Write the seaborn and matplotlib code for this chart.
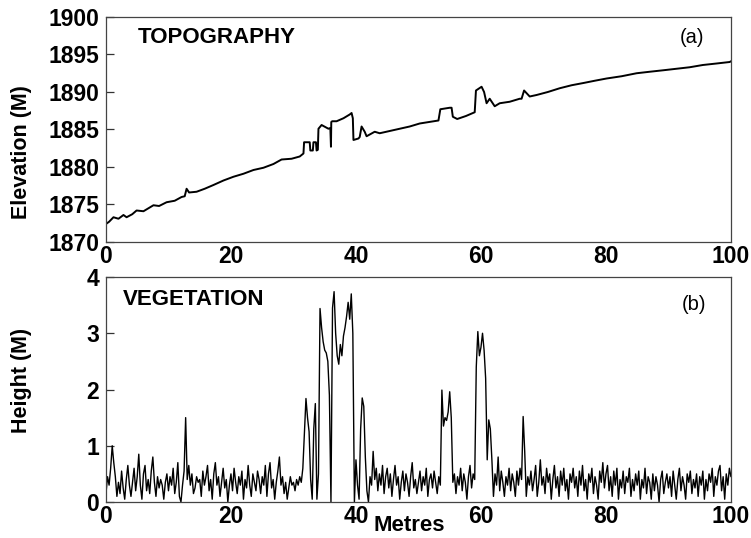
import numpy as np
import pandas as pd
import matplotlib
matplotlib.use("Agg")
import matplotlib.pyplot as plt
import seaborn as sns

# topography transect
topo_x = [0, 0.5, 1.2, 2.0, 2.8, 3.3, 4.2, 4.9, 6.0, 6.8,
          7.6, 8.5, 9.7, 11.0, 12.1, 12.6, 12.9, 13.3, 14.5, 15.8,
          17.2, 18.8, 20.4, 22.0, 23.6, 25.2, 26.8, 28.1, 29.7, 31.0,
          31.6, 31.7, 32.6, 32.7, 33.1, 33.2, 33.6, 33.7, 33.9, 34.0,
          34.5, 35.6, 35.9, 36.0, 36.05, 36.2, 36.9, 38.0, 39.0, 39.3,
          39.5, 39.6, 40.4, 40.6, 40.9, 41.4, 41.7, 43.0, 43.8, 45.4,
          47.0, 48.6, 50.2, 51.7, 53.2, 53.5, 55.0, 55.3, 55.5, 56.2,
          57.6, 59.0, 59.2, 60.1, 60.5, 60.9, 61.4, 62.2, 63.0, 64.6,
          66.2, 66.5, 66.9, 67.8, 68.9, 70.7, 72.6, 74.5, 76.4, 78.2,
          80.1, 82.5, 84.9, 87.0, 89.2, 91.3, 93.4, 95.5, 97.7, 99.8,
          100]
topo_elev = [1872.4, 1872.7, 1873.3, 1873.1, 1873.6, 1873.3, 1873.7, 1874.2, 1874.1, 1874.5,
             1874.9, 1874.8, 1875.3, 1875.5, 1876.0, 1876.1, 1877.1, 1876.6, 1876.7, 1877.1,
             1877.6, 1878.2, 1878.7, 1879.1, 1879.6, 1879.9, 1880.4, 1881.0, 1881.1, 1881.4,
             1881.8, 1883.3, 1883.3, 1882.2, 1882.2, 1883.3, 1883.3, 1882.2, 1882.3, 1885.1,
             1885.6, 1885.1, 1885.2, 1882.7, 1886.0, 1886.1, 1886.1, 1886.5, 1887.0, 1887.2,
             1886.5, 1883.6, 1883.8, 1884.0, 1885.4, 1884.7, 1884.1, 1884.7, 1884.5, 1884.8,
             1885.1, 1885.4, 1885.8, 1886.0, 1886.2, 1887.7, 1887.9, 1887.9, 1886.7, 1886.4,
             1886.8, 1887.3, 1890.2, 1890.7, 1890.0, 1888.5, 1889.1, 1888.1, 1888.5, 1888.7,
             1889.1, 1889.1, 1890.2, 1889.4, 1889.6, 1890.0, 1890.5, 1890.9, 1891.2, 1891.5,
             1891.8, 1892.1, 1892.5, 1892.7, 1892.9, 1893.1, 1893.3, 1893.6, 1893.8, 1894.0,
             1894.1]

# vegetation height, one value every 0.25 m (20 values per row = 5 m)
veg_h = [
    0.15, 0.45, 0.3, 0.6, 1.0, 0.7, 0.45, 0.1, 0.35, 0.15, 0.55, 0.25, 0.05, 0.4, 0.65, 0.3, 0.1, 0.35, 0.6, 0.2,
    0.45, 0.85, 0.3, 0.05, 0.5, 0.65, 0.2, 0.4, 0.15, 0.55, 0.8, 0.35, 0.1, 0.45, 0.25, 0.4, 0.3, 0.05, 0.35, 0.5,
    0.2, 0.45, 0.3, 0.6, 0.15, 0.35, 0.7, 0.1, 0.0, 0.3, 0.55, 1.5, 0.4, 0.65, 0.3, 0.5, 0.15, 0.25, 0.45, 0.35,
    0.4, 0.1, 0.55, 0.3, 0.45, 0.65, 0.2, 0.4, 0.05, 0.5, 0.7, 0.3, 0.45, 0.1, 0.35, 0.6, 0.25, 0.4, 0.0, 0.3,
    0.5, 0.2, 0.6, 0.35, 0.15, 0.45, 0.3, 0.55, 0.05, 0.4, 0.25, 0.65, 0.3, 0.1, 0.5, 0.35, 0.2, 0.55, 0.4, 0.15,
    0.45, 0.3, 0.65, 0.1, 0.5, 0.7, 0.25, 0.4, 0.05, 0.35, 0.55, 0.8, 0.3, 0.45, 0.15, 0.35, 0.05, 0.25, 0.45, 0.3,
    0.35, 0.2, 0.4, 0.3, 0.45, 0.35, 0.6, 1.2, 1.84, 1.5, 1.25, 0.4, 0.05, 1.3, 1.75, 0.05, 0.5, 3.44, 3.1, 2.85,
    2.7, 2.65, 2.5, 1.9, 0.0, 3.45, 3.74, 3.0, 2.6, 2.45, 2.8, 2.6, 2.95, 3.1, 3.3, 3.55, 3.25, 3.7, 3.0, 0.0,
    0.75, 0.3, 0.05, 1.3, 1.85, 1.7, 0.8, 0.2, 0.0, 0.45, 0.3, 0.9, 0.4, 0.6, 0.2, 0.5, 0.3, 0.65, 0.15, 0.45,
    0.6, 0.25, 0.5, 0.1, 0.4, 0.65, 0.3, 0.45, 0.05, 0.35, 0.55, 0.2, 0.5, 0.35, 0.1, 0.45, 0.7, 0.25, 0.4, 0.15,
    0.35, 0.55, 0.2, 0.45, 0.3, 0.6, 0.1, 0.4, 0.5, 0.25, 0.55, 0.35, 0.15, 0.45, 0.3, 1.99, 1.35, 1.5, 1.45, 1.6,
    1.96, 1.5, 0.35, 0.5, 0.15, 0.45, 0.3, 0.6, 0.2, 0.5, 0.35, 0.05, 0.45, 0.65, 0.25, 0.5, 0.4, 2.4, 3.03, 2.6,
    2.75, 3.0, 2.7, 2.2, 0.75, 1.46, 1.3, 0.75, 0.1, 0.5, 0.3, 0.8, 0.2, 0.55, 0.35, 0.1, 0.45, 0.3, 0.6, 0.2,
    0.5, 0.35, 0.1, 0.55, 0.3, 0.6, 0.4, 1.52, 0.9, 0.1, 0.45, 0.3, 0.55, 0.2, 0.4, 0.65, 0.1, 0.35, 0.75, 0.3,
    0.45, 0.15, 0.6, 0.35, 0.5, 0.05, 0.4, 0.65, 0.25, 0.45, 0.1, 0.55, 0.3, 0.6, 0.2, 0.4, 0.05, 0.5, 0.35, 0.6,
    0.25, 0.45, 0.1, 0.55, 0.3, 0.65, 0.2, 0.4, 0.05, 0.5, 0.35, 0.6, 0.15, 0.45, 0.3, 0.05, 0.55, 0.35, 0.7, 0.25,
    0.5, 0.65, 0.2, 0.45, 0.1, 0.55, 0.3, 0.6, 0.05, 0.4, 0.25, 0.55, 0.15, 0.45, 0.35, 0.6, 0.1, 0.4, 0.2, 0.5,
    0.3, 0.55, 0.05, 0.4, 0.25, 0.6, 0.15, 0.45, 0.35, 0.05, 0.5, 0.2, 0.45, 0.3, 0.0, 0.4, 0.55, 0.15, 0.35, 0.5,
    0.25, 0.45, 0.1, 0.55, 0.3, 0.05, 0.4, 0.6, 0.2, 0.45, 0.3, 0.05, 0.5, 0.35, 0.55, 0.15, 0.4, 0.25, 0.5, 0.1,
    0.45, 0.3, 0.55, 0.05, 0.4, 0.2, 0.5, 0.35, 0.6, 0.1, 0.45, 0.3, 0.55, 0.65, 0.2, 0.45, 0.05, 0.5, 0.3, 0.6,
    0.45,
]
veg_x = np.linspace(0, 100, len(veg_h))

elev_ticks = [1870, 1875, 1880, 1885, 1890, 1895, 1900]
height_ticks = [0, 1, 2, 3, 4]
metre_ticks = [0, 20, 40, 60, 80, 100]


def style_axis(ax):
    for s in ax.spines.values():
        s.set_color("#444444")
        s.set_linewidth(0.9)
    ax.tick_params(axis="y", left=True, direction="in", length=6, width=0.9,
                   pad=5, labelsize=16.5, color="#333333", labelcolor="black")
    ax.tick_params(axis="x", direction="in", length=0, pad=2, labelsize=16.5,
                   labelcolor="black")
    for lab in ax.get_xticklabels() + ax.get_yticklabels():
        lab.set_fontweight("bold")


def main():
    sns.set_theme(style="white")
    plt.rcParams["font.family"] = ["Liberation Sans", "DejaVu Sans"]
    plt.rcParams["text.color"] = "black"
    plt.rcParams["axes.labelcolor"] = "black"

    fig = plt.figure(figsize=(7.51, 5.38), dpi=100)
    ax1 = fig.add_axes([0.1411, 0.5502, 0.8322, 0.4182])
    ax2 = fig.add_axes([0.1411, 0.0669, 0.8322, 0.4182])

    topo = pd.DataFrame({"x": topo_x, "elev": topo_elev})
    veg = pd.DataFrame({"x": veg_x, "h": veg_h})

    sns.lineplot(data=topo, x="x", y="elev", ax=ax1, color="black",
                 linewidth=1.4, sort=False, estimator=None)
    sns.lineplot(data=veg, x="x", y="h", ax=ax2, color="black",
                 linewidth=1.0, sort=False, estimator=None)

    ax1.set_xlim(0, 100)
    ax1.set_ylim(1870, 1900)
    ax1.set_yticks(elev_ticks)
    ax1.set_xticks(metre_ticks)
    ax2.set_xlim(0, 100)
    ax2.set_ylim(0, 4)
    ax2.set_yticks(height_ticks)
    ax2.set_xticks(metre_ticks)

    style_axis(ax1)
    style_axis(ax2)

    ax1.set_xlabel("")
    ax1.set_ylabel("Elevation (M)", fontsize=15.5, fontweight="bold")
    ax1.yaxis.set_label_coords(-0.118, 0.398)
    ax2.set_ylabel("Height (M)", fontsize=15.5, fontweight="bold")
    ax2.yaxis.set_label_coords(-0.118, 0.542)
    ax2.set_xlabel("Metres", fontsize=16, fontweight="bold")
    ax2.xaxis.set_label_coords(0.485, -0.058)

    ax1.text(0.178, 0.908, "TOPOGRAPHY", transform=ax1.transAxes,
             ha="center", va="center", fontsize=16, fontweight="bold")
    ax1.text(0.938, 0.911, "(a)", transform=ax1.transAxes,
             ha="center", va="center", fontsize=14.5)
    ax2.text(0.14, 0.902, "VEGETATION", transform=ax2.transAxes,
             ha="center", va="center", fontsize=16, fontweight="bold")
    ax2.text(0.941, 0.88, "(b)", transform=ax2.transAxes,
             ha="center", va="center", fontsize=14.5)

    fig.savefig("out.png", dpi=100, facecolor="white")


if __name__ == "__main__":
    main()
